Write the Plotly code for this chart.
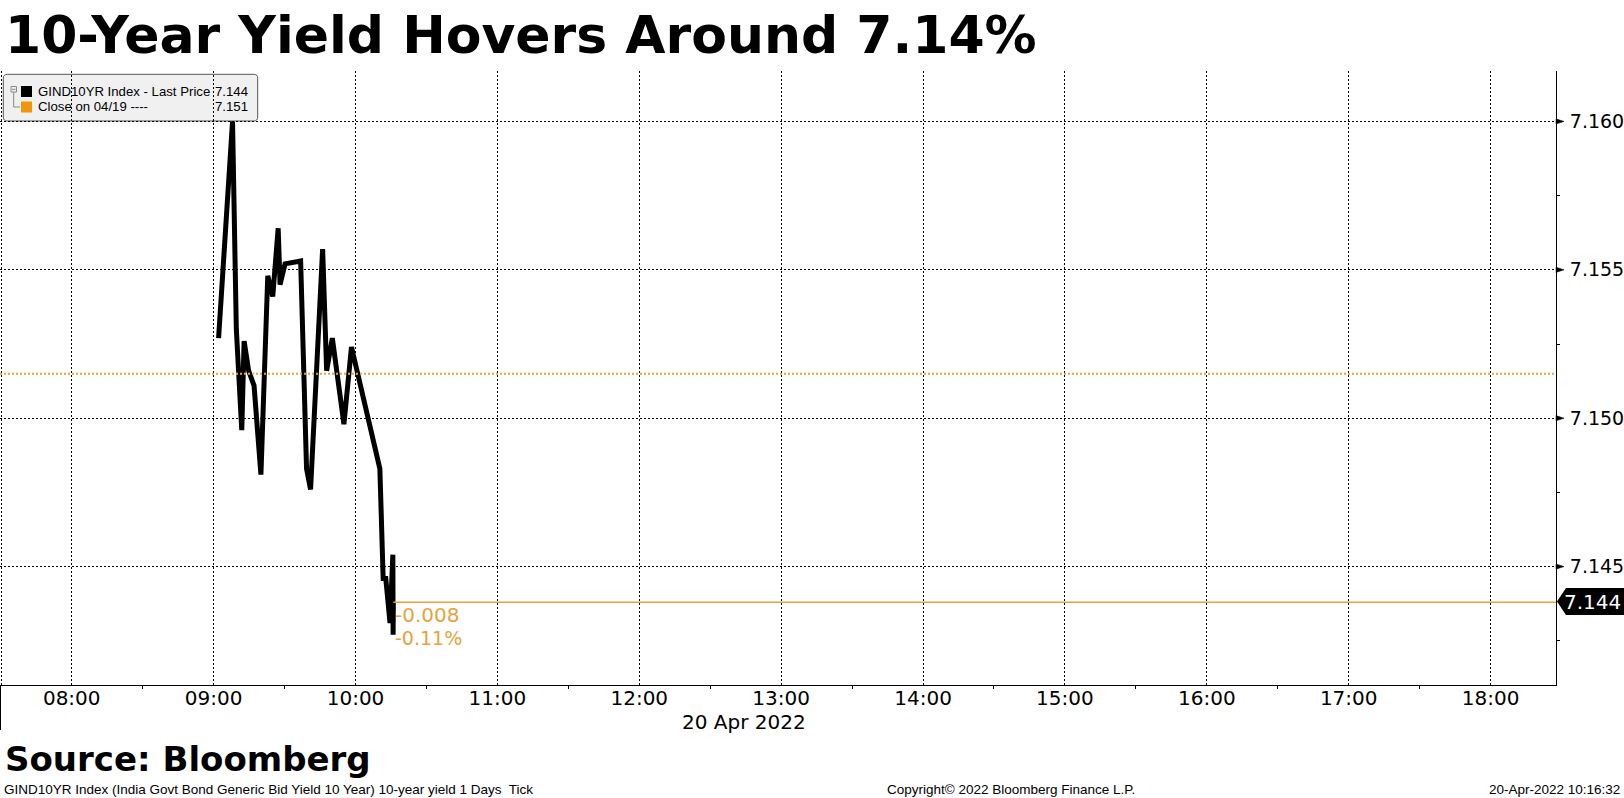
import plotly.graph_objects as go

# ---------------- data ----------------
DAY = "2022-04-20"
times = ["09:02:06", "09:08:00", "09:09:36", "09:11:54", "09:12:54", "09:14:48",
         "09:17:06", "09:20:00", "09:22:54", "09:25:00", "09:27:18", "09:28:06",
         "09:30:12", "09:36:48", "09:39:18", "09:41:00", "09:46:06", "09:47:48",
         "09:50:12", "09:55:06", "09:58:18", "10:10:18", "10:11:42", "10:12:48",
         "10:14:36", "10:15:48", "10:15:54", "10:16:00"]
yield_values = [7.1527, 7.1600, 7.1530, 7.1496, 7.1526, 7.1516,
                7.1511, 7.1481, 7.1548, 7.1541, 7.1564, 7.1545,
                7.1552, 7.1553, 7.1483, 7.1476, 7.1557, 7.1516,
                7.1527, 7.1498, 7.1524, 7.1483, 7.1446, 7.1446,
                7.1431, 7.1454, 7.1427, 7.1438]
last_price = 7.1438
prev_close = 7.1515
last_label = "7.144"
close_label = "7.151"
change_text = "-0.008"
change_pct_text = "-0.11%"
hour_ticks = ["08:00", "09:00", "10:00", "11:00", "12:00", "13:00",
              "14:00", "15:00", "16:00", "17:00", "18:00"]
half_hour_ticks = ["07:30", "08:30", "09:30", "10:30", "11:30", "12:30",
                   "13:30", "14:30", "15:30", "16:30", "17:30", "18:30"]
y_ticks = [7.145, 7.150, 7.155, 7.160]
y_minor_ticks = [7.1425, 7.1475, 7.1525, 7.1575]
x_range = ["2022-04-20 07:29:40", "2022-04-20 18:27:40"]
y_range = [7.14101, 7.16170]

# ---------------- geometry helpers ----------------
W, H = 1624, 798
ML, MR, MT, MB = 0, 68, 71, 113
PW = W - ML - MR
PH = H - MT - MB
BOTTOM = H - MB

def pxx(x):
    return (x - ML) / PW

def pxy(y):
    return (BOTTOM - y) / PH

def P(x, y):
    return f"{pxx(x):.6f},{pxy(y):.6f}"

def yval_to_paper(v):
    return (v - y_range[0]) / (y_range[1] - y_range[0])

ORANGE = "#E8A33C"

xs = [f"{DAY} {t}" for t in times]

fig = go.Figure()
fig.add_trace(go.Scatter(x=xs, y=yield_values, mode="lines",
                         line=dict(color="black", width=5),
                         hoverinfo="skip", showlegend=False))
fig.add_trace(go.Scatter(x=[xs[-1], x_range[1]], y=[last_price, last_price],
                         mode="lines", line=dict(color=ORANGE, width=1.5),
                         hoverinfo="skip", showlegend=False, cliponaxis=True))

shapes = []
# previous close dotted line
shapes.append(dict(type="line", xref="paper", yref="y", x0=0, x1=1,
                   y0=prev_close, y1=prev_close,
                   line=dict(color=ORANGE, width=2, dash="2px,2px")))
# left dotted gridline and left solid line below axis
shapes.append(dict(type="line", xref="paper", yref="paper",
                   x0=pxx(1.5), x1=pxx(1.5), y0=0, y1=1,
                   line=dict(color="black", width=1, dash="2px,2px"), layer="below"))
shapes.append(dict(type="line", xref="paper", yref="paper",
                   x0=pxx(0.5), x1=pxx(0.5), y0=0, y1=pxy(730),
                   line=dict(color="black", width=1)))
# y major tick triangles
for v in y_ticks:
    yp = yval_to_paper(v)
    dy = 2.6 / PH
    shapes.append(dict(type="path", xref="paper", yref="paper",
                       path=f"M {pxx(W-MR):.6f},{yp+dy:.6f} L {pxx(W-MR+8):.6f},{yp:.6f} "
                            f"L {pxx(W-MR):.6f},{yp-dy:.6f} Z",
                       fillcolor="black", line=dict(color="black", width=0.5)))
# last price label box
shapes.append(dict(type="path", xref="paper", yref="paper",
                   path=f"M {P(1557,601.5)} L {P(1566,588)} L {P(1624,588)} "
                        f"L {P(1624,615)} L {P(1566,615)} Z",
                   fillcolor="black", line=dict(color="black", width=0)))

# legend box (rounded)
x0, x1, y0, y1, r = 3.3, 257.7, 74.3, 121.0, 4
path = (f"M {P(x0+r,y0)} L {P(x1-r,y0)} Q {P(x1,y0)} {P(x1,y0+r)} "
        f"L {P(x1,y1-r)} Q {P(x1,y1)} {P(x1-r,y1)} L {P(x0+r,y1)} "
        f"Q {P(x0,y1)} {P(x0,y1-r)} L {P(x0,y0+r)} Q {P(x0,y0)} {P(x0+r,y0)} Z")
shapes.append(dict(type="path", xref="paper", yref="paper", path=path,
                   fillcolor="#f0f0f0", line=dict(color="#555555", width=1),
                   layer="below"))
# legend tree icon
shapes.append(dict(type="rect", xref="paper", yref="paper",
                   x0=pxx(11), x1=pxx(16.5), y0=pxy(92), y1=pxy(86.5),
                   line=dict(color="#888888", width=1), fillcolor="#f0f0f0"))
shapes.append(dict(type="line", xref="paper", yref="paper",
                   x0=pxx(12), x1=pxx(15.5), y0=pxy(89.3), y1=pxy(89.3),
                   line=dict(color="#888888", width=1)))
shapes.append(dict(type="path", xref="paper", yref="paper",
                   path=f"M {P(13.7,92)} L {P(13.7,107)} L {P(20,107)}",
                   line=dict(color="#888888", width=1)))
# legend colour squares
shapes.append(dict(type="rect", xref="paper", yref="paper",
                   x0=pxx(21), x1=pxx(32), y0=pxy(97), y1=pxy(86),
                   fillcolor="black", line=dict(width=0)))
shapes.append(dict(type="rect", xref="paper", yref="paper",
                   x0=pxx(21), x1=pxx(32), y0=pxy(112.5), y1=pxy(101.5),
                   fillcolor="#F0960A", line=dict(width=0)))

ann = []
def add_text(text, x, y, size, color="black", family="DejaVu Sans",
             xanchor="left", bold=False):
    ann.append(dict(text=f"<b>{text}</b>" if bold else text,
                    xref="paper", yref="paper", x=pxx(x), y=pxy(y),
                    xanchor=xanchor, yanchor="middle", showarrow=False,
                    font=dict(size=size, color=color, family=family)))

add_text("10-Year Yield Hovers Around 7.14%", 3, 35, 52, bold=True)
add_text("Source: Bloomberg", 3, 759, 34, bold=True)
add_text("20 Apr 2022", 744, 722, 20, xanchor="center")
add_text("GIND10YR Index (India Govt Bond Generic Bid Yield 10 Year) 10-year yield 1 Days  Tick",
         2, 789, 13.5, family="Liberation Sans")
add_text("Copyright\u00a9 2022 Bloomberg Finance L.P.", 1011, 789, 13.5,
         family="Liberation Sans", xanchor="center")
add_text("20-Apr-2022 10:16:32", 1622, 789, 13.5, family="Liberation Sans",
         xanchor="right")
add_text(change_text, 393, 614.5, 20, color=ORANGE)
add_text(change_pct_text, 393, 637.5, 19, color=ORANGE)
add_text(last_label, 1592.5, 601.5, 20, color="white", xanchor="center")
add_text("GIND10YR Index - Last Price", 35.5, 91.5, 13.2, family="Liberation Sans")
add_text(last_label, 250, 91.5, 13.2, family="Liberation Sans", xanchor="right")
add_text("Close on 04/19 ----", 35.5, 106.7, 13.2, family="Liberation Sans")
add_text(close_label, 250, 106.7, 13.2, family="Liberation Sans", xanchor="right")

fig.update_layout(
    width=W, height=H,
    margin=dict(l=ML, r=MR, t=MT, b=MB, pad=0),
    paper_bgcolor="white", plot_bgcolor="white",
    showlegend=False,
    shapes=shapes, annotations=ann,
    xaxis=dict(
        type="date", range=x_range,
        tickvals=[f"{DAY} {t}" for t in hour_ticks], ticktext=hour_ticks,
        showgrid=True, gridcolor="black", gridwidth=1, griddash="2px,2px",
        ticks="", showline=True, linecolor="black", linewidth=1,
        tickfont=dict(family="DejaVu Sans", size=20, color="black"),
        ticklabelstandoff=-5,
        zeroline=False, fixedrange=True,
        minor=dict(tickvals=[f"{DAY} {t}" for t in half_hour_ticks],
                   ticks="outside", ticklen=3, tickcolor="black", tickwidth=1,
                   showgrid=False),
    ),
    yaxis=dict(
        side="right", range=y_range,
        tickvals=y_ticks, ticktext=[f"{v:.3f}" for v in y_ticks],
        showgrid=True, gridcolor="black", gridwidth=1, griddash="2px,2px",
        ticks="", showline=True, linecolor="black", linewidth=1,
        tickfont=dict(family="DejaVu Sans", size=19, color="black"),
        ticklabelstandoff=9,
        zeroline=False, fixedrange=True,
        minor=dict(tickvals=y_minor_ticks, ticks="outside", ticklen=3,
                   tickcolor="black", tickwidth=1, showgrid=False),
    ),
)

fig.write_html("out.html", config={"displayModeBar": False},
               post_script="document.body.style.margin='0';document.body.style.overflow='hidden';")
